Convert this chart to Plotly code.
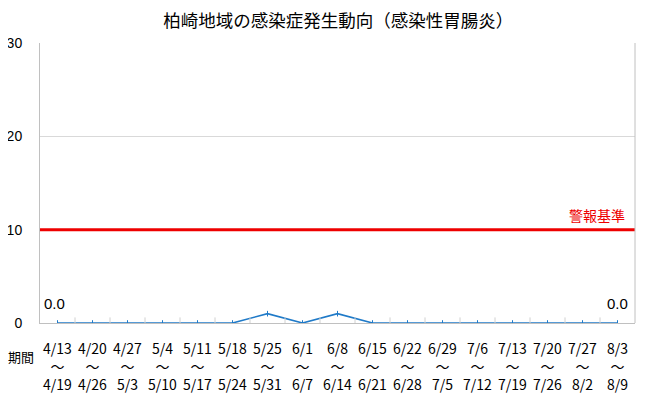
import plotly.graph_objects as go

# 期間 (週) と患者数
week_start = ["4/13", "4/20", "4/27", "5/4", "5/11", "5/18", "5/25", "6/1", "6/8",
              "6/15", "6/22", "6/29", "7/6", "7/13", "7/20", "7/27", "8/3"]
week_end = ["4/19", "4/26", "5/3", "5/10", "5/17", "5/24", "5/31", "6/7", "6/14",
            "6/21", "6/28", "7/5", "7/12", "7/19", "7/26", "8/2", "8/9"]
cases = [0, 0, 0, 0, 0, 0, 1, 0, 1, 0, 0, 0, 0, 0, 0, 0, 0]
alarm_level = 10
y_ticks = [0, 10, 20, 30]

font_jp = "Noto Sans CJK JP"
x_idx = list(range(len(cases)))
tick_text = [s + "<br>～<br>" + e for s, e in zip(week_start, week_end)]

fig = go.Figure()

fig.add_trace(go.Scatter(
    x=x_idx, y=cases, mode="lines+markers",
    line=dict(color="#1f7ac8", width=1.6),
    marker=dict(symbol="line-ns", size=4, line=dict(color="#1f7ac8", width=1)),
    showlegend=False))

# 最初と最後だけ数値を表示
for k, dx in [(0, -3), (len(cases) - 1, 0)]:
    fig.add_annotation(x=x_idx[k], y=cases[k], text="%.1f" % cases[k], showarrow=False,
                       yshift=20, xshift=dx,
                       font=dict(family="Liberation Sans", size=15, color="black"))

# 警報基準
fig.add_shape(type="line", xref="paper", x0=0, x1=1, yref="y", y0=alarm_level, y1=alarm_level,
              line=dict(color="#ee0000", width=3))
fig.add_annotation(xref="paper", x=0.987, yref="y", y=alarm_level, text="警報基準",
                   showarrow=False, xanchor="right", yanchor="bottom", yshift=3,
                   font=dict(family=font_jp, size=14, color="#ee0000"))

# 区切りの目盛り
for k in range(len(cases) - 1):
    fig.add_shape(type="line", xref="x", x0=k + 0.5, x1=k + 0.5, yref="y", y0=0, y1=0.6,
                  line=dict(color="#d0d0d0", width=1))

fig.add_annotation(xref="paper", x=-0.006, yref="paper", y=0, yshift=-33, text="期間",
                   showarrow=False, xanchor="right", yanchor="middle",
                   font=dict(family=font_jp, size=13, color="black"))

fig.update_layout(
    width=650, height=405,
    margin=dict(l=32, r=23, t=35, b=90),
    paper_bgcolor="white", plot_bgcolor="white",
    title=dict(text="柏崎地域の感染症発生動向（感染性胃腸炎）", x=0.508, xanchor="center",
               y=0.968, yanchor="middle",
               font=dict(family=font_jp, size=17.5, color="black")),
    font=dict(family=font_jp, size=14, color="black"),
)
fig.update_xaxes(range=[-0.5, len(cases) - 0.5], tickmode="array", tickvals=x_idx,
                 ticktext=tick_text, showgrid=False, zeroline=False, automargin=False,
                 showline=True, linecolor="#c0c0c0", mirror=False,
                 tickfont=dict(family=font_jp, size=14), ticks="", ticklabelstandoff=13)
fig.update_yaxes(range=[0, 30], tickvals=y_ticks, showgrid=True, gridcolor="#d9d9d9",
                 zeroline=False, showline=True, linecolor="#c0c0c0", automargin=False,
                 tickfont=dict(family="Liberation Sans", size=14), ticks="", ticklabelstandoff=14)
# 右側の枠線
fig.add_shape(type="line", xref="paper", x0=1, x1=1, yref="paper", y0=0, y1=1,
              line=dict(color="#c0c0c0", width=1))

fig.write_html("out.html")
